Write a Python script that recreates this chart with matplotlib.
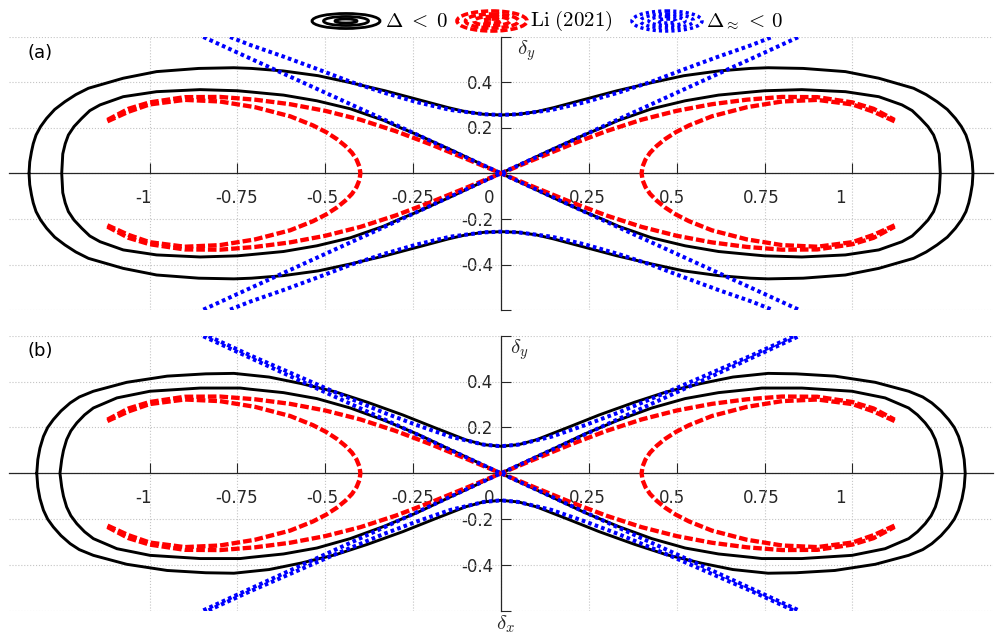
import numpy as np
import matplotlib
matplotlib.use('Agg')
import matplotlib.pyplot as plt
from matplotlib.patches import Ellipse

plt.rcParams['mathtext.fontset'] = 'cm'
plt.rcParams['font.family'] = ['DejaVu Sans']

# ---------------- data (first-quadrant readings, mirrored by symmetry) ----------------
# panel (a)
a_black_outer_x = [0, 0.05, 0.10, 0.15, 0.24, 0.33, 0.43, 0.52, 0.62, 0.71, 0.76, 0.86, 0.98, 1.075, 1.174, 1.21, 1.241, 1.27, 1.293, 1.31, 1.323, 1.331, 1.336, 1.341, 1.343]
a_black_outer_y = [0.256, 0.259, 0.27, 0.288, 0.325, 0.362, 0.398, 0.428, 0.449, 0.46, 0.463, 0.46, 0.446, 0.417, 0.373, 0.345, 0.314, 0.28, 0.241, 0.205, 0.168, 0.13, 0.095, 0.05, 0.0]
a_black_inner_x = [0, 0.049, 0.144, 0.239, 0.287, 0.334, 0.429, 0.524, 0.619, 0.714, 0.75, 0.856, 0.98, 1.075, 1.141, 1.17, 1.193, 1.215, 1.231, 1.24, 1.247, 1.25]
a_black_inner_y = [0, 0.035, 0.104, 0.17, 0.2, 0.232, 0.283, 0.318, 0.343, 0.357, 0.362, 0.367, 0.358, 0.336, 0.3, 0.275, 0.241, 0.205, 0.168, 0.13, 0.085, 0.0]
a_blue_hyp_x = [0, 0.049, 0.144, 0.239, 0.334, 0.429, 0.524, 0.619, 0.714, 0.771]
a_blue_hyp_y = [0.256, 0.259, 0.278, 0.312, 0.354, 0.402, 0.458, 0.512, 0.563, 0.598]
# panel (b)
b_black_outer_x = [0, 0.05, 0.10, 0.19, 0.28, 0.38, 0.47, 0.57, 0.66, 0.76, 0.84, 0.95, 1.065, 1.16, 1.2, 1.226, 1.252, 1.274, 1.29, 1.302, 1.312, 1.318, 1.321]
b_black_outer_y = [0.118, 0.125, 0.146, 0.2, 0.255, 0.31, 0.355, 0.392, 0.42, 0.436, 0.434, 0.424, 0.397, 0.358, 0.333, 0.307, 0.272, 0.234, 0.2, 0.161, 0.11, 0.06, 0.0]
b_black_inner_x = [0, 0.05, 0.144, 0.239, 0.334, 0.429, 0.524, 0.619, 0.714, 0.742, 0.856, 0.999, 1.093, 1.16, 1.185, 1.207, 1.224, 1.236, 1.245, 1.25, 1.255]
b_black_inner_y = [0, 0.036, 0.103, 0.172, 0.232, 0.285, 0.326, 0.352, 0.367, 0.372, 0.372, 0.358, 0.329, 0.285, 0.255, 0.22, 0.185, 0.147, 0.1, 0.06, 0.0]
b_blue_hyp_x = [0, 0.049, 0.144, 0.239, 0.334, 0.477, 0.714, 0.832]
b_blue_hyp_y = [0.118, 0.125, 0.16, 0.21, 0.265, 0.357, 0.515, 0.598]
# shared
blue_line_x = [0, 0.286, 0.714, 0.847]
blue_line_y = [0, 0.203, 0.504, 0.598]
red_outer_x = [0, 0.1, 0.2, 0.3, 0.4, 0.5, 0.6, 0.7, 0.8, 0.9, 1.0, 1.06, 1.12]
red_outer_y = [0, 0.064, 0.127, 0.185, 0.235, 0.274, 0.303, 0.323, 0.335, 0.334, 0.311, 0.283, 0.234]
red_inner_x = [0.4, 0.403, 0.411, 0.424, 0.443, 0.467, 0.497, 0.535, 0.6, 0.7, 0.8, 0.9, 1.0, 1.06, 1.12]
red_inner_y = [0.0, 0.03, 0.06, 0.09, 0.12, 0.15, 0.18, 0.21, 0.25, 0.29, 0.315, 0.322, 0.302, 0.27, 0.228]

x_ticks = [-1, -0.75, -0.5, -0.25, 0, 0.25, 0.5, 0.75, 1]
x_ticklabels = ['-1', '-0.75', '-0.5', '-0.25', '0', '0.25', '0.5', '0.75', '1']
y_ticks = [-0.6, -0.4, -0.2, 0, 0.2, 0.4, 0.6]
y_ticklabels = ['', '-0.4', '-0.2', '', '0.2', '0.4', '']
legend_labels = [r'$\Delta\;<\;0$', r'$\mathrm{Li\ (2021)}$', r'$\Delta_{\approx}\,<\,0$']

# ---------------- helpers (symmetry mirroring) ----------------
A = np.asarray

def closed_loop(qx, qy):
    qx, qy = A(qx), A(qy)
    tx = np.concatenate([-qx[::-1], qx]); ty = np.concatenate([qy[::-1], qy])
    return np.concatenate([tx, tx[::-1]]), np.concatenate([ty, -ty[::-1]])

def figure8(qx, qy):
    qx, qy = A(qx), A(qy)
    X = np.concatenate([qx, qx[::-1]]); Y = np.concatenate([qy, -qy[::-1]])
    return [(X, Y), (-X, Y)]

def hyperbola(qx, qy):
    qx, qy = A(qx), A(qy)
    X = np.concatenate([-qx[::-1], qx]); Y = np.concatenate([qy[::-1], qy])
    return [(X, Y), (X, -Y)]

def cross(qx, qy):
    qx, qy = A(qx), A(qy)
    X = np.concatenate([-qx[::-1], qx]); Y = np.concatenate([-qy[::-1], qy])
    return [(X, Y), (X, -Y)]

def loop_pair(qx, qy):
    qx, qy = A(qx), A(qy)
    X = np.concatenate([qx[::-1], qx]); Y = np.concatenate([qy[::-1], -qy])
    return [(X, Y), (-X, Y)]

BLACK = dict(color='black', lw=2.1, solid_capstyle='round', solid_joinstyle='round', zorder=3)
RED = dict(color='#ff0000', lw=3.1, linestyle=(0, (2.0, 0.7)), dash_capstyle='butt', zorder=4)
BLUE = dict(color='#0000ff', lw=2.9, linestyle=(0, (0.9, 0.8)), dash_capstyle='butt', zorder=5)

W, H = 996, 637
fig = plt.figure(figsize=(W / 100, H / 100), dpi=100)

def px_axes(l, t, r, b):
    return fig.add_axes([l / W, 1 - b / H, (r - l) / W, (b - t) / H])

def setup(ax, dy_x, with_dx):
    ax.set_xlim(-1.4, 1.4)
    ax.set_ylim(-0.6, 0.6)
    ax.patch.set_alpha(0)
    for s in ('top', 'right'):
        ax.spines[s].set_visible(False)
    ax.spines['left'].set_position(('data', 0))
    ax.spines['bottom'].set_position(('data', 0))
    for s in ('left', 'bottom'):
        ax.spines[s].set_color('#262626')
        ax.spines[s].set_linewidth(0.9)
        ax.spines[s].set_zorder(2)
    ax.set_xticks(x_ticks)
    ax.set_yticks(y_ticks)
    ax.set_xticklabels([])
    ax.set_yticklabels([])
    ax.tick_params(direction='in', length=7, width=0.8, color='#262626')
    ax.grid(True, linestyle=':', color='#c4c4c4', lw=0.8, zorder=0)
    xoff = {-1: -6, -0.75: -1, -0.5: -3, -0.25: -1, 0: -12, 0.25: -2, 0.5: -5, 0.75: -3, 1: -12}
    for v, lab in zip(x_ticks, x_ticklabels):
        ax.annotate(lab, xy=(v, 0), xytext=(xoff[v] * 0.72, -11.6), textcoords='offset points',
                    ha='center', va='top', fontsize=12, color='#262626', zorder=1)
    for v, lab in zip(y_ticks, y_ticklabels):
        if lab:
            ax.annotate(lab, xy=(0, v), xytext=(-5.4, -1.2), textcoords='offset points',
                        ha='right', va='center', fontsize=12, color='#262626', zorder=1)
    ax.text(dy_x, 0.54, r'$\delta_y$', fontsize=15, ha='left', va='center', color='#262626')
    if with_dx:
        ax.text(0.013, -0.66, r'$\delta_x$', fontsize=15, ha='center', va='center',
                color='#262626', clip_on=False)

def draw(ax, bo, bi, bh):
    X, Y = closed_loop(*bo)
    ax.plot(X, Y, **BLACK)
    for X, Y in figure8(*bi):
        ax.plot(X, Y, **BLACK)
    for X, Y in cross(red_outer_x, red_outer_y):
        ax.plot(X, Y, **RED)
    for X, Y in loop_pair(red_inner_x, red_inner_y):
        ax.plot(X, Y, **RED)
    for X, Y in hyperbola(*bh):
        ax.plot(X, Y, **BLUE)
    for X, Y in cross(blue_line_x, blue_line_y):
        ax.plot(X, Y, **BLUE)

axA = px_axes(9, 36.5, 993, 310.1)
axB = px_axes(9, 335.8, 993, 610.8)
setup(axA, 0.046, False)
setup(axB, 0.027, True)
draw(axA, (a_black_outer_x, a_black_outer_y), (a_black_inner_x, a_black_inner_y), (a_blue_hyp_x, a_blue_hyp_y))
draw(axB, (b_black_outer_x, b_black_outer_y), (b_black_inner_x, b_black_inner_y), (b_blue_hyp_x, b_blue_hyp_y))

fig.text(27 / W, 1 - 52.5 / H, '(a)', fontsize=13, ha='left', va='center')
fig.text(27 / W, 1 - 351 / H, '(b)', fontsize=13, ha='left', va='center')

# ---------------- legend (contour-style icons) ----------------
lg = fig.add_axes([0, 0, 1, 1])
lg.set_xlim(0, W)
lg.set_ylim(H, 0)
lg.axis('off')
lg.patch.set_alpha(0)
icon_styles = [
    dict(ec='black', lw=2.0, ls='-'),
    dict(ec='#ff0000', lw=2.6, ls=(0, (2.0, 0.8))),
    dict(ec='#0000ff', lw=2.5, ls=(0, (0.9, 0.9))),
]
icon_rings = [
    [(68, 15), (45, 9), (22, 4)],
    [(70, 20), (53, 14), (36, 9), (18, 4)],
    [(70, 20), (53, 14), (36, 9), (18, 4)],
]
icon_cx = [346, 492, 667]
text_x = [385, 530, 706]
for cx, rings, st, tx, lab in zip(icon_cx, icon_rings, icon_styles, text_x, legend_labels):
    for w, h in rings:
        lg.add_patch(Ellipse((cx, 21), w, h, fill=False, edgecolor=st['ec'], lw=st['lw'], linestyle=st['ls']))
    lg.text(tx, 21, lab, fontsize=15, ha='left', va='center')

fig.savefig('out.png', dpi=100)
